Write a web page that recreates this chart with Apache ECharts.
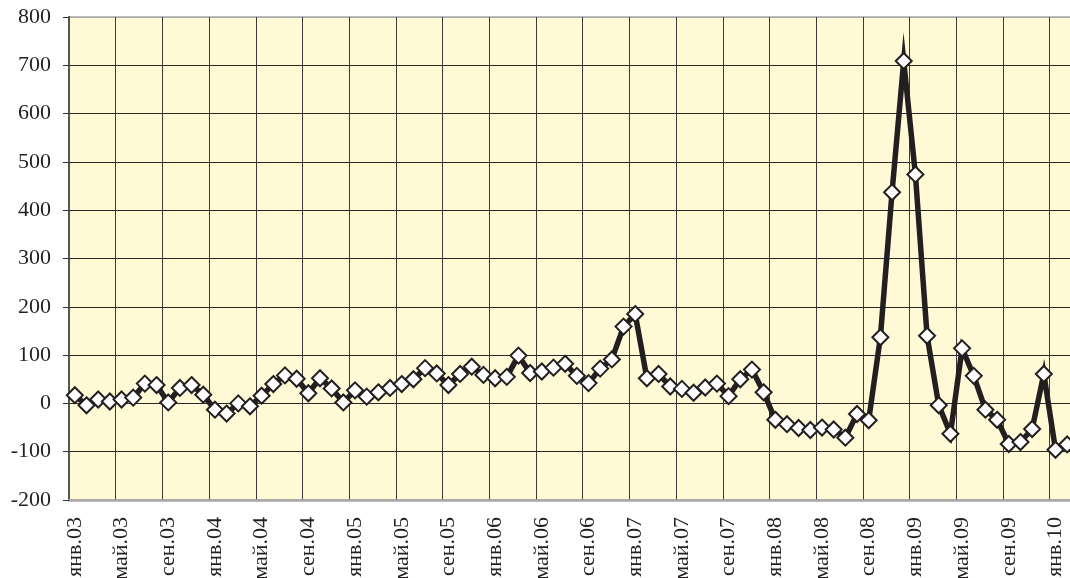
<!DOCTYPE html>
<html>
<head>
<meta charset="utf-8">
<script src="https://cdn.jsdelivr.net/npm/echarts@6/dist/echarts.min.js"></script>
<style>
html,body{margin:0;padding:0;background:#fff;}
#chart{width:1070px;height:578px;}
</style>
</head>
<body>
<div id="chart"></div>
<script>
var categories = [
 'янв.03','фев.03','мар.03','апр.03','май.03','июн.03','июл.03','авг.03','сен.03','окт.03','ноя.03','дек.03',
 'янв.04','фев.04','мар.04','апр.04','май.04','июн.04','июл.04','авг.04','сен.04','окт.04','ноя.04','дек.04',
 'янв.05','фев.05','мар.05','апр.05','май.05','июн.05','июл.05','авг.05','сен.05','окт.05','ноя.05','дек.05',
 'янв.06','фев.06','мар.06','апр.06','май.06','июн.06','июл.06','авг.06','сен.06','окт.06','ноя.06','дек.06',
 'янв.07','фев.07','мар.07','апр.07','май.07','июн.07','июл.07','авг.07','сен.07','окт.07','ноя.07','дек.07',
 'янв.08','фев.08','мар.08','апр.08','май.08','июн.08','июл.08','авг.08','сен.08','окт.08','ноя.08','дек.08',
 'янв.09','фев.09','мар.09','апр.09','май.09','июн.09','июл.09','авг.09','сен.09','окт.09','ноя.09','дек.09',
 'янв.10','фев.10'
];
var values = [
 17, -4, 8, 4, 8, 12, 41, 38, 2, 32, 38, 18,
 -13, -21, 0, -6, 16, 40, 58, 51, 21, 52, 31, 2,
 27, 14, 23, 32, 40, 50, 73, 62, 38, 61, 76, 59,
 52, 55, 99, 63, 66, 74, 82, 57, 42, 72, 91, 159,
 185, 52, 61, 35, 30, 22, 33, 41, 15, 50, 70, 23,
 -34, -43, -51, -55, -50, -54, -71, -22, -35, 137, 437, 709,
 474, 140, -4, -63, 114, 57, -13, -34, -84, -80, -53, 61,
 -96, -85
];
var yMin = -200, yMax = 800, yStep = 100;

var chart = echarts.init(document.getElementById('chart'), null, {renderer:'canvas'});
var font = 'Liberation Serif';
chart.setOption({
  animation: false,
  grid: {
    left: 69, top: 17, width: 1004, height: 483,
    outerBoundsMode: 'none', containLabel: false,
    show: true, backgroundColor: '#FFF9D6', borderColor: '#A8A8A8', borderWidth: 1.5
  },
  xAxis: {
    type: 'category',
    data: categories,
    boundaryGap: true,
    axisLine: {show: true, onZero: false, lineStyle: {color: '#A8A8A8', width: 2.5}},
    axisTick: {show: false},
    axisLabel: {
      interval: 3, rotate: 90, margin: 17,
      fontFamily: font, fontSize: 22, color: '#231F20'
    },
    splitLine: {show: true, interval: 3, lineStyle: {color: '#3C3A36', width: 1}}
  },
  yAxis: {
    type: 'value',
    min: yMin, max: yMax, interval: yStep,
    axisLine: {show: true, lineStyle: {color: '#555555', width: 2}},
    axisTick: {show: true, length: 6, lineStyle: {color: '#333', width: 1}},
    axisLabel: {margin: 18, fontFamily: font, fontSize: 22, color: '#231F20'},
    splitLine: {show: true, lineStyle: {
      color: ['#A8A8A8','#2A2826','#2A2826','#2A2826','#2A2826','#2A2826','#2A2826','#2A2826','#2A2826','#2A2826','#A8A8A8'],
      width: 1}}
  },
  series: [{
    type: 'line',
    data: values,
    symbol: 'diamond',
    symbolSize: 16,
    showAllSymbol: true,
    lineStyle: {color: '#231F20', width: 5.5, join: 'miter', miterLimit: 20},
    itemStyle: {color: '#FFFFFF', borderColor: '#231F20', borderWidth: 2}
  }]
});
</script>
</body>
</html>
